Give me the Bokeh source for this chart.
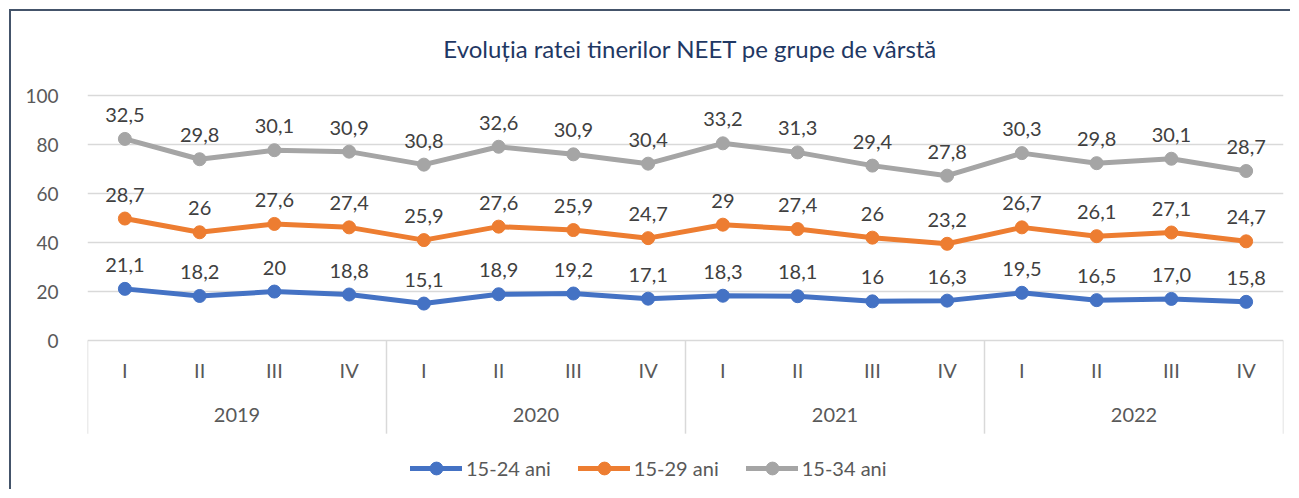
import numpy as np
from bokeh.plotting import figure
from bokeh.models import Range1d, FixedTicker, Legend, LegendItem, ColumnDataSource
from bokeh.core.properties import value
from bokeh.embed import file_html
from bokeh.resources import INLINE

title = "Evoluția ratei tinerilor NEET pe grupe de vârstă"
years = ["2019", "2020", "2021", "2022"]
quarters = ["I", "II", "III", "IV"]
series_names = ["15-24 ani", "15-29 ani", "15-34 ani"]
colors = ["#4472C4", "#ED7D31", "#A5A5A5"]

v1524 = [21.1, 18.2, 20.0, 18.8, 15.1, 18.9, 19.2, 17.1, 18.3, 18.1, 16.0, 16.3, 19.5, 16.5, 17.0, 15.8]
v1529 = [28.7, 26.0, 27.6, 27.4, 25.9, 27.6, 25.9, 24.7, 29.0, 27.4, 26.0, 23.2, 26.7, 26.1, 27.1, 24.7]
v1534 = [32.5, 29.8, 30.1, 30.9, 30.8, 32.6, 30.9, 30.4, 33.2, 31.3, 29.4, 27.8, 30.3, 29.8, 30.1, 28.7]

l1524 = ["21,1", "18,2", "20", "18,8", "15,1", "18,9", "19,2", "17,1", "18,3", "18,1", "16", "16,3", "19,5", "16,5", "17,0", "15,8"]
l1529 = ["28,7", "26", "27,6", "27,4", "25,9", "27,6", "25,9", "24,7", "29", "27,4", "26", "23,2", "26,7", "26,1", "27,1", "24,7"]
l1534 = ["32,5", "29,8", "30,1", "30,9", "30,8", "32,6", "30,9", "30,4", "33,2", "31,3", "29,4", "27,8", "30,3", "29,8", "30,1", "28,7"]

yticks = [0, 20, 40, 60, 80, 100]

FONT = "Lato"
n = len(v1524)
xs = np.arange(n) + 0.5

# stacked (Excel "stacked line")
c1 = np.array(v1524)
c2 = c1 + np.array(v1529)
c3 = c2 + np.array(v1534)

p = figure(width=1281, height=480, output_backend="svg", toolbar_location=None,
           x_axis_location=None, x_range=Range1d(0, n), y_range=Range1d(-61.6, 134.3),
           min_border_left=76, min_border_right=9, min_border_top=0, min_border_bottom=0)
p.styles = {"border-left": "2px solid #44546A", "border-top": "2px solid #44546A",
            "margin-left": "9px", "margin-top": "9px"}
p.outline_line_color = None
p.background_fill_color = "white"
p.border_fill_color = "white"
p.xgrid.visible = False
p.ygrid.grid_line_color = "#D9D9D9"
p.ygrid.grid_line_width = 1.3
p.yaxis.ticker = FixedTicker(ticks=yticks)
p.yaxis.axis_line_color = None
p.yaxis.major_tick_line_color = None
p.yaxis.minor_tick_line_color = None
p.yaxis.major_label_standoff = 23
p.yaxis.major_label_text_font = FONT
p.yaxis.major_label_text_font_size = "19px"
p.yaxis.major_label_text_color = "#595959"

# category axis (two-level)
qlab = [quarters[i % 4] for i in range(n)]
p.text(x=xs, y=[-12.2] * n, text=qlab, text_align="center", text_baseline="middle",
       text_font=value(FONT), text_font_size="20px", text_color="#595959")
yx = [2, 6, 10, 14]
p.text(x=yx, y=[-30.2] * 4, text=years, text_align="center", text_baseline="middle",
       text_font=value(FONT), text_font_size="20px", text_color="#595959")
sep = [0, 4, 8, 12, 16]
p.segment(x0=sep, y0=[0] * 5, x1=sep, y1=[-38] * 5, line_color="#D9D9D9", line_width=1.5)

# title
p.text(x=[8.07], y=[119.2], text=[title], text_align="center", text_baseline="middle",
       text_font=value(FONT), text_font_size="24px", text_color="#1F3864")

items = []
for ys, labs, name, col in [(c1, l1524, series_names[0], colors[0]),
                            (c2, l1529, series_names[1], colors[1]),
                            (c3, l1534, series_names[2], colors[2])]:
    src = ColumnDataSource(dict(x=xs, y=ys, lab=labs))
    lr = p.line("x", "y", source=src, line_color=col, line_width=5, line_join="round", line_cap="round")
    sr = p.scatter("x", "y", source=src, size=13, fill_color=col, line_color=col)
    p.text("x", "y", text="lab", source=src, text_align="center", text_baseline="alphabetic",
           y_offset=-24, text_font=value(FONT), text_font_size="20px", text_color="#404040")
    items.append(LegendItem(label=name, renderers=[lr, sr]))

legend = Legend(items=items, location=(323, 7), orientation="horizontal",
                glyph_width=52, glyph_height=32, label_height=32, label_standoff=4,
                spacing=27, padding=0, margin=0, border_line_color=None,
                background_fill_alpha=0, label_text_font=FONT, label_text_font_size="20px",
                label_text_color="#595959")
p.add_layout(legend)

open("out.html", "w").write(file_html(p, INLINE))
